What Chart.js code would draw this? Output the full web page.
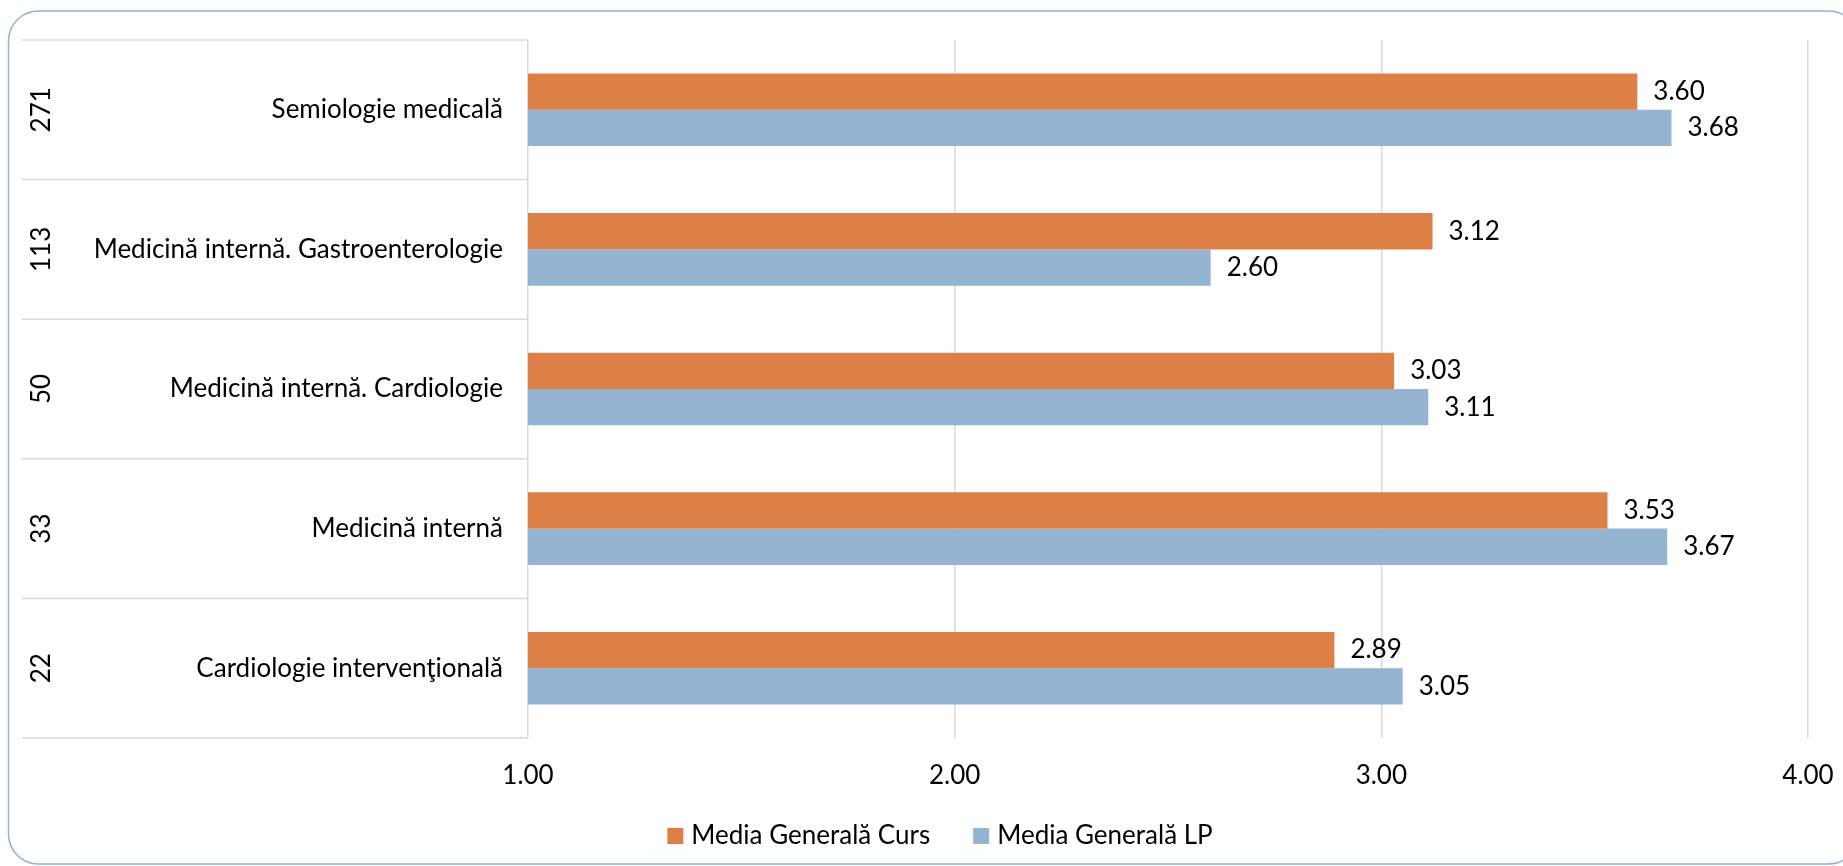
<!DOCTYPE html>
<html>
<head>
<meta charset="utf-8">
<script src="https://cdn.jsdelivr.net/npm/chart.js@4"></script>
<style>
  html, body { margin: 0; padding: 0; background: #ffffff; }
  #wrap { width: 1843px; height: 866px; }
</style>
</head>
<body>
<div id="wrap"><canvas id="graphique" width="1843" height="866"></canvas></div>
<script>
// Données
const categories = [
    'Semiologie medicală',
    'Medicină internă. Gastroenterologie',
    'Medicină internă. Cardiologie',
    'Medicină internă',
    'Cardiologie intervenţională'
];
const effectifs = ['271', '113', '50', '33', '22'];
const mediaCurs = [3.60, 3.12, 3.03, 3.53, 2.89];
const mediaLP = [3.68, 2.60, 3.11, 3.67, 3.05];
const ticksX = [1, 2, 3, 4];

const POLICE = 'Lato';
const TAILLE = 26;
const GRIS = '#d9d9d9';

// Cadre arrondi, séparateurs de catégories, effectifs, étiquettes de valeurs et légende
const decor = {
    id: 'decor',
    beforeDraw(chart) {
        const ctx = chart.ctx;
        ctx.save();
        ctx.strokeStyle = '#8db3d7';
        ctx.lineWidth = 1.5;
        ctx.beginPath();
        ctx.roundRect(8.5, 11, 1850, 853, 30);
        ctx.stroke();
        ctx.restore();
    },
    afterDraw(chart) {
        const ctx = chart.ctx;
        const y = chart.scales.y;
        const area = chart.chartArea;
        const pas = y.getPixelForValue(1) - y.getPixelForValue(0);

        ctx.save();
        // lignes entre les catégories (zone des libellés seulement)
        ctx.strokeStyle = GRIS;
        ctx.lineWidth = 1.5;
        for (let i = 0; i <= categories.length; i++) {
            const py = y.getPixelForValue(0) - pas / 2 + i * pas;
            ctx.beginPath();
            ctx.moveTo(22, py);
            ctx.lineTo(area.left, py);
            ctx.stroke();
        }

        // effectifs écrits verticalement
        ctx.fillStyle = '#000';
        ctx.font = TAILLE + 'px ' + POLICE;
        ctx.textAlign = 'center';
        ctx.textBaseline = 'middle';
        effectifs.forEach((n, i) => {
            ctx.save();
            ctx.translate(42, y.getPixelForValue(i));
            ctx.rotate(-Math.PI / 2);
            ctx.fillText(n, 0, 0);
            ctx.restore();
        });

        // valeurs au bout des barres
        ctx.textAlign = 'left';
        chart.data.datasets.forEach((ds, d) => {
            chart.getDatasetMeta(d).data.forEach((barre, i) => {
                ctx.fillText(ds.data[i].toFixed(2), barre.x + 16, barre.y);
            });
        });

        // légende
        const boite = 16;
        const ecart = 8;
        const entre = 43;
        const largeurs = chart.data.datasets.map(ds => ctx.measureText(ds.label).width);
        const total = largeurs.reduce((s, w) => s + boite + ecart + w, 0) + entre * (largeurs.length - 1);
        let x = 940 - total / 2;
        const ly = 836;
        chart.data.datasets.forEach((ds, d) => {
            ctx.fillStyle = ds.backgroundColor;
            ctx.fillRect(x, ly - boite / 2, boite, boite);
            x += boite + ecart;
            ctx.fillStyle = '#000';
            ctx.fillText(ds.label, x, ly);
            x += largeurs[d] + entre;
        });
        ctx.restore();
    }
};

new Chart(document.getElementById('graphique'), {
    type: 'bar',
    data: {
        labels: categories,
        datasets: [
            {
                label: 'Media Generală Curs',
                data: mediaCurs,
                backgroundColor: '#dd8048',
                borderWidth: 0,
                categoryPercentage: 0.52,
                barPercentage: 1
            },
            {
                label: 'Media Generală LP',
                data: mediaLP,
                backgroundColor: '#95b4d2',
                borderWidth: 0,
                categoryPercentage: 0.52,
                barPercentage: 1
            }
        ]
    },
    options: {
        indexAxis: 'y',
        responsive: false,
        animation: false,
        devicePixelRatio: 1,
        layout: { padding: { left: 0, right: 35, top: 40, bottom: 64 } },
        scales: {
            x: {
                type: 'linear',
                min: 1,
                max: 4,
                afterBuildTicks: scale => { scale.ticks = ticksX.map(v => ({ value: v })); },
                afterFit: scale => {
                    scale.height = 64;
                    scale.paddingLeft = 0;
                    scale.paddingRight = 0;
                },
                ticks: {
                    color: '#000',
                    padding: 22,
                    font: { family: POLICE, size: TAILLE },
                    callback: v => Number(v).toFixed(2)
                },
                grid: { color: GRIS, lineWidth: 1.5, drawTicks: false },
                border: { display: false }
            },
            y: {
                type: 'category',
                afterFit: scale => { scale.width = 528; },
                ticks: {
                    color: '#000',
                    padding: 17,
                    font: { family: POLICE, size: TAILLE }
                },
                grid: { display: false },
                border: { display: false }
            }
        },
        plugins: {
            legend: { display: false },
            tooltip: { enabled: false }
        }
    },
    plugins: [decor]
});
</script>
</body>
</html>
